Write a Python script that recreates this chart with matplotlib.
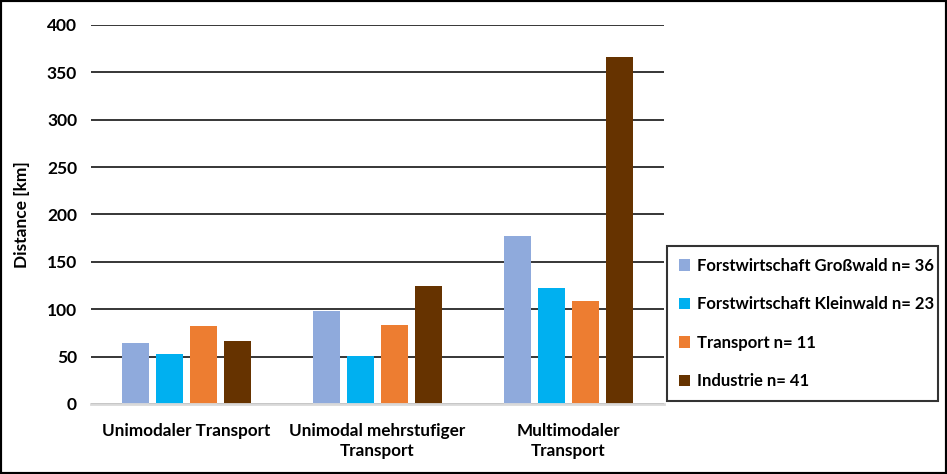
import numpy as np
import matplotlib
matplotlib.use("Agg")
import matplotlib.pyplot as plt
from matplotlib.patches import Rectangle

plt.rcParams['font.family'] = ['Lato', 'DejaVu Sans']
plt.rcParams['font.weight'] = 'bold'
plt.rcParams['axes.labelweight'] = 'bold'

categories = ["Unimodaler Transport", "Unimodal mehrstufiger\nTransport", "Multimodaler\nTransport"]
series_names = ["Forstwirtschaft Großwald n= 36", "Forstwirtschaft Kleinwald n= 23",
                "Transport n= 11", "Industrie n= 41"]
grosswald = [64, 98, 177]
kleinwald = [53, 51, 122]
transport = [82, 83, 109]
industrie = [66, 124, 366]
colors = ['#8faadc', '#00b0f0', '#ed7d31', '#663300']

fig = plt.figure(figsize=(9.47, 4.74), dpi=100)
ax = fig.add_axes([0.0961, 0.1477, 0.6051, 0.7996])

x = np.arange(len(categories))
width = 0.141
step = 0.178
all_series = [grosswald, kleinwald, transport, industrie]
for i, vals in enumerate(all_series):
    ax.bar(x + (i - 1.5) * step, vals, width, color=colors[i], label=series_names[i], zorder=3)

ax.set_xlim(-0.5, 2.5)
ax.set_ylim(0, 400)
ax.set_yticks(range(0, 401, 50))
ax.yaxis.grid(True, color='black', linewidth=1.1, zorder=0)
ax.set_axisbelow(True)
for s in ['left', 'right', 'top']:
    ax.spines[s].set_visible(False)
ax.spines['bottom'].set_color('#d9d9d9')
ax.spines['bottom'].set_linewidth(2)
ax.spines['bottom'].set_zorder(4)
ax.tick_params(axis='both', length=0, labelsize=12.5, pad=10)
ax.tick_params(axis='x', pad=14)
ax.set_xticks(x)
ax.set_xticklabels(categories, fontsize=12.3, linespacing=1.3)
ax.set_ylabel("Distance [km]", fontsize=12.5, fontweight='bold', labelpad=12)

leg = ax.legend(loc='lower left', bbox_to_anchor=(667 / 947, (474 - 401) / 474, (938 - 667) / 947, 140 / 474),
                bbox_transform=fig.transFigure, mode='expand', fontsize=12, frameon=True,
                fancybox=False, edgecolor='black', handlelength=0.7, handleheight=0.7,
                handletextpad=0.4, labelspacing=1.35, borderpad=0.7, borderaxespad=0)
leg.get_frame().set_linewidth(1.5)

fig.patches.append(Rectangle((0, 0), 1, 1, transform=fig.transFigure, fill=False,
                             edgecolor='black', linewidth=3))

fig.savefig("out.png", dpi=100)
